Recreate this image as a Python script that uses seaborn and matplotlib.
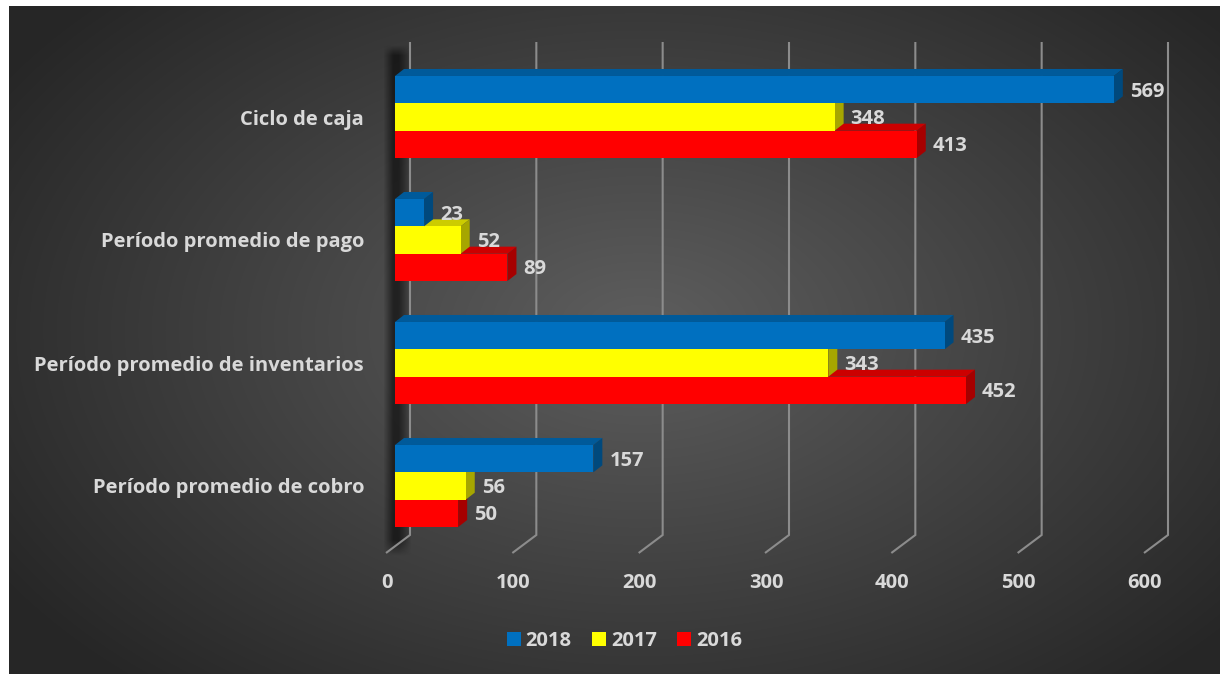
import numpy as np
import pandas as pd
import matplotlib
matplotlib.use("Agg")
import matplotlib.pyplot as plt
import seaborn as sns
from matplotlib.patches import Polygon, Rectangle
from matplotlib.transforms import IdentityTransform
from matplotlib import colors as mcolors

# ---- data -------------------------------------------------------------
categories = [
    "Ciclo de caja",
    "Período promedio de pago",
    "Período promedio de inventarios",
    "Período promedio de cobro",
]
years = ["2018", "2017", "2016"]
values_2018 = [569, 23, 435, 157]
values_2017 = [348, 52, 343, 56]
values_2016 = [413, 89, 452, 50]
x_ticks = [0, 100, 200, 300, 400, 500, 600]
year_colors = ["#0070C0", "#FFFF00", "#FF0000"]

series = {"2018": values_2018, "2017": values_2017, "2016": values_2016}
df = pd.DataFrame(
    [(c, y, v) for y in years for c, v in zip(categories, series[y])],
    columns=["categoria", "anio", "valor"],
)

# ---- style --------------------------------------------------------------
plt.rcParams["font.family"] = ["Open Sans", "DejaVu Sans"]
TXT = "#d9d9d9"
FS = 14.5
W, H = 1220, 674

fig = plt.figure(figsize=(W / 100, H / 100), dpi=100, facecolor="white")

# background panel with radial gradient (pixel coordinates, y downward)
bg = fig.add_axes([0, 0, 1, 1], zorder=0)
bg.axis("off")
yy, xx = np.mgrid[6:H, 9:W].astype(float)
r = np.sqrt(((xx - 640) / 760) ** 2 + ((yy - 330) / 480) ** 2)
t = np.clip(1 - r, 0, 1)
g = (0x26 + (0x5E - 0x26) * t) / 255
bg.imshow(np.dstack([g, g, g]), extent=(9, W, H, 6), origin="upper",
          interpolation="bilinear", aspect="auto", zorder=0)

# soft shadow cast on the back wall
sh_x = np.linspace(0, 1, 30)
prof_x = np.interp(sh_x, [0, 0.35, 0.55, 1.0], [0, 0.55, 0.55, 0])
sh_y = np.linspace(0, 1, 200)
prof_y = np.interp(sh_y, [0, 0.02, 0.97, 1.0], [0, 1, 1, 0])
alpha = np.outer(prof_y, prof_x)
shadow = np.zeros((200, 30, 4))
shadow[..., 3] = alpha
bg.imshow(shadow, extent=(383, 412, 557, 44), origin="upper",
          interpolation="bilinear", aspect="auto", zorder=1)
bg.set_xlim(0, W)
bg.set_ylim(H, 0)

# ---- bars -------------------------------------------------------------
ax = fig.add_axes([395 / W, (H - 555) / H, (1153 - 395) / W, (555 - 42) / H], zorder=1)
ax.patch.set_alpha(0)
sns.barplot(data=df, y="categoria", x="valor", hue="anio", order=categories,
            hue_order=years, palette=year_colors, orient="h", width=0.667,
            saturation=1, legend=False, ax=ax)
ax.set_xlim(0, 600)
ax.set_ylim((555 - 117) / 123, (42 - 117) / 123)
ax.set_xticks([])
ax.set_xlabel("")
ax.set_ylabel("")
for s in ax.spines.values():
    s.set_visible(False)
ax.tick_params(axis="y", length=0, pad=22.3, labelsize=FS, labelcolor=TXT)
for lab in ax.get_yticklabels():
    lab.set_fontweight("bold")


def shade(c, f):
    rgb = np.array(mcolors.to_rgb(c)) * f
    return tuple(rgb)


DX, DY = 9, 7
n = len(years)
for k, (cont, year) in enumerate(zip(ax.containers, years)):
    z = 3 + 2 * (n - k)
    base = year_colors[k]
    top_c, side_c = shade(base, 0.8), shade(base, 0.65)
    for bar, val in zip(cont, series[year]):
        bar.set_linewidth(0)
        bar.set_zorder(z + 0.5)
        x0, x1 = bar.get_x(), bar.get_x() + bar.get_width()
        ya, yb = bar.get_y(), bar.get_y() + bar.get_height()
        px0, ptop = ax.transData.transform((x0, ya))
        px1, pbot = ax.transData.transform((x1, yb))
        top = Polygon([(px0, ptop), (px1, ptop), (px1 + DX, ptop + DY), (px0 + DX, ptop + DY)],
                      closed=True, facecolor=top_c, lw=0, zorder=z,
                      transform=IdentityTransform(), clip_on=False)
        side = Polygon([(px1, ptop), (px1 + DX, ptop + DY), (px1 + DX, pbot + DY), (px1, pbot)],
                       closed=True, facecolor=side_c, lw=0, zorder=z,
                       transform=IdentityTransform(), clip_on=False)
        ax.add_patch(top)
        ax.add_patch(side)
        ax.annotate(f"{val}", xy=(x1, (ya + yb) / 2), xytext=(DX + 7, -2),
                    textcoords="offset pixels", ha="left", va="center",
                    color=TXT, fontsize=FS, fontweight="bold", zorder=20,
                    annotation_clip=False)

# ---- 3D gridlines (back wall + floor) and tick labels --------------------
for v in x_ticks:
    fx = ax.transData.transform((v, 0))[0]
    bx = fx + 15
    bg.plot([bx, bx, bx - 24], [42, 535, 553], color="#8c8c8c", lw=1.5,
            solid_joinstyle="miter", solid_capstyle="butt", zorder=2)
    bg.text(bx - 23, 583, f"{v}", ha="center", va="center", color=TXT,
            fontsize=FS, fontweight="bold", zorder=3)

# ---- legend ------------------------------------------------------------
handles = [Rectangle((0, 0), 1, 1, facecolor=c, lw=0) for c in year_colors]
fig.legend(handles, years, loc="center", bbox_to_anchor=(624.5 / W, (H - 641) / H),
           ncol=3, frameon=False, handlelength=0.7, handleheight=0.7,
           handletextpad=0.25, columnspacing=1.0, labelcolor=TXT,
           prop=dict(family="Open Sans", weight="bold", size=FS))

fig.savefig("out.png", dpi=100, facecolor="white")
